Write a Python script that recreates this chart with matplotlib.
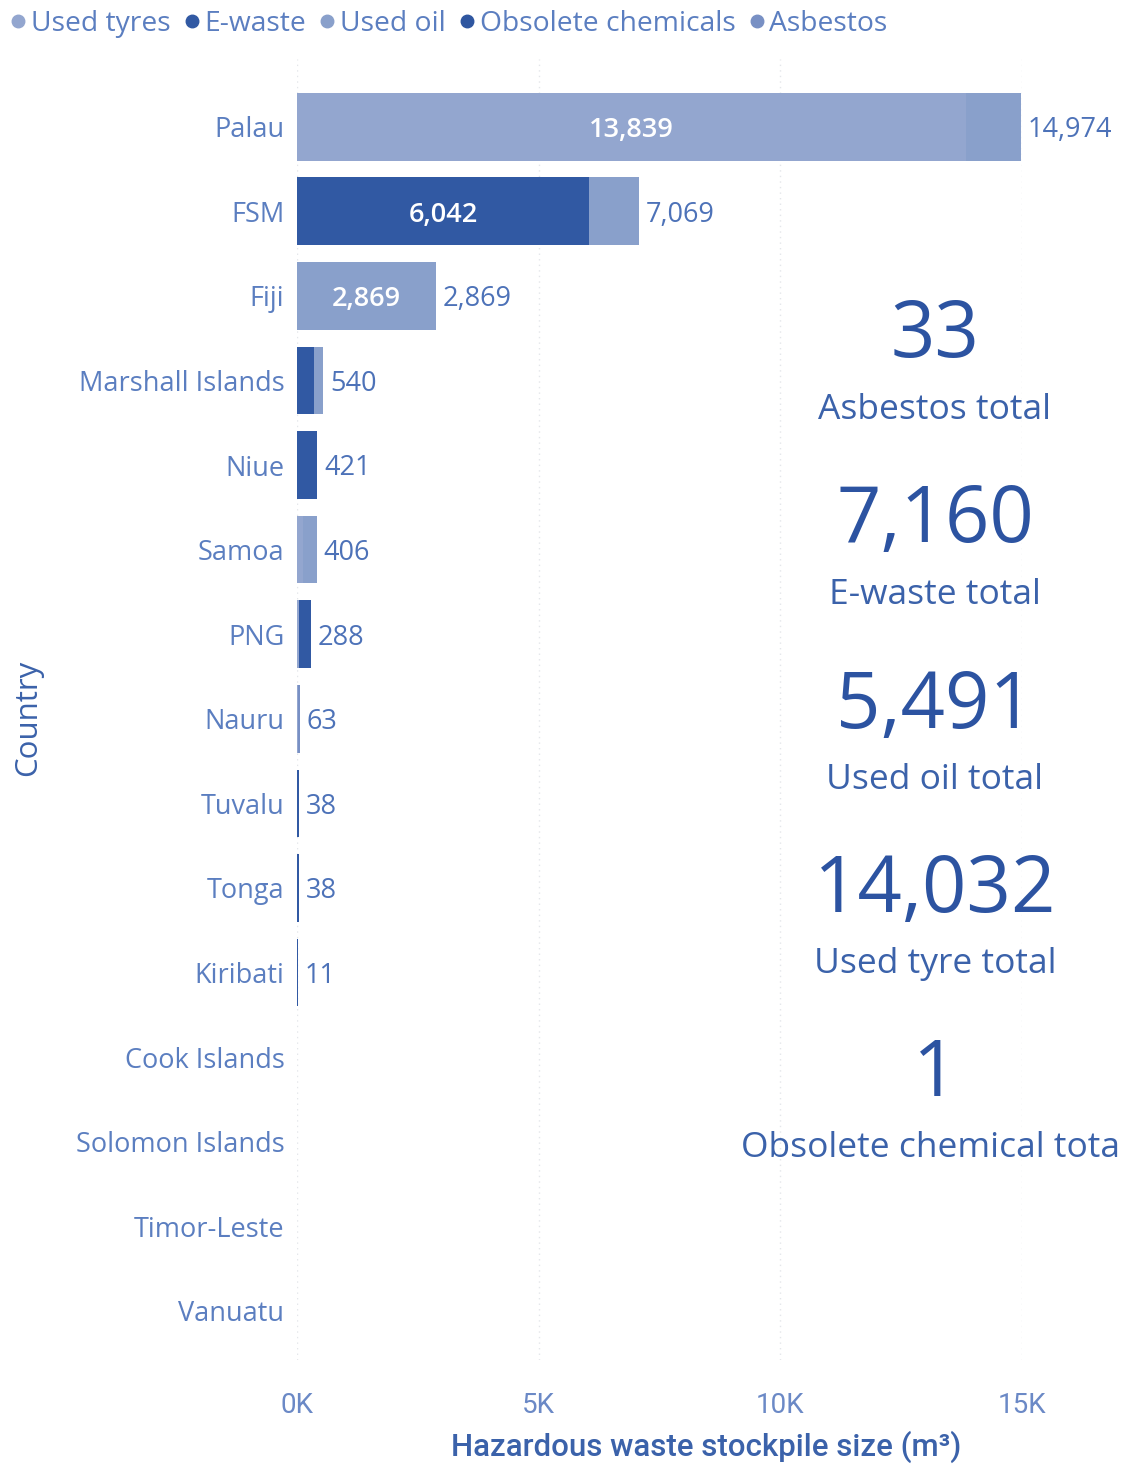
import matplotlib
matplotlib.use("Agg")
import matplotlib.pyplot as plt
import numpy as np
from matplotlib.lines import Line2D
from matplotlib.ticker import FuncFormatter
from matplotlib.transforms import Bbox, TransformedBbox

countries = ["Palau", "FSM", "Fiji", "Marshall Islands", "Niue", "Samoa", "PNG",
             "Nauru", "Tuvalu", "Tonga", "Kiribati", "Cook Islands",
             "Solomon Islands", "Timor-Leste", "Vanuatu"]

# stockpile sizes per waste type (m3), same order as countries
used_tyres = [13839, 0, 0, 0, 0, 131, 33, 29, 0, 0, 0, 0, 0, 0, 0]
e_waste = [0, 6042, 0, 355, 421, 0, 255, 0, 38, 38, 11, 0, 0, 0, 0]
used_oil = [1135, 1027, 2869, 185, 0, 275, 0, 0, 0, 0, 0, 0, 0, 0, 0]
obsolete_chemicals = [0, 0, 0, 0, 0, 0, 0, 1, 0, 0, 0, 0, 0, 0, 0]
asbestos = [0, 0, 0, 0, 0, 0, 0, 33, 0, 0, 0, 0, 0, 0, 0]

series_names = ["Used tyres", "E-waste", "Used oil", "Obsolete chemicals", "Asbestos"]
series_colors = ["#93a6cf", "#3159a3", "#89a0cb", "#2f56a0", "#7890c4"]

card_labels = ["Asbestos total", "E-waste total", "Used oil total",
               "Used tyre total", "Obsolete chemical total"]

label_col = "#4d72b8"
dark_col = "#2c53a1"

fig = plt.figure(figsize=(11.27, 14.66), dpi=100)
ax = fig.add_axes([297 / 1127, 1 - 1360 / 1466, (1022 - 297) / 1127, (1360 - 59) / 1466])

series = [used_tyres, e_waste, used_oil, obsolete_chemicals, asbestos]
y = np.arange(len(countries))
left = np.zeros(len(countries))
for vals, col in zip(series, series_colors):
    vals = np.array(vals, dtype=float)
    ax.barh(y, vals, left=left, height=0.8, color=col, linewidth=0)
    for i, v in enumerate(vals):
        if v >= 1500:
            ax.text(left[i] + v / 2, i + 0.04, f"{int(v):,}", ha="center", va="center",
                    color="white", fontsize=19.5, fontweight="semibold", family="Open Sans")
    left += vals

totals = left
for i, t in enumerate(totals):
    if t > 0:
        ax.text(t + 140, i + 0.04, f"{int(t):,}", ha="left", va="center", color=label_col,
                fontsize=19.5, family="Open Sans", clip_on=False)

ax.set_xlim(0, 15000)
ax.set_ylim(14.58, -0.8)
ax.set_yticks(y)
ax.set_yticklabels(countries, family="Open Sans", fontsize=19.5, color="#5b7ec0")
ax.set_xticks([0, 5000, 10000, 15000])
ax.xaxis.set_major_formatter(FuncFormatter(lambda v, p: f"{int(v / 1000)}K"))
for lab in ax.get_xticklabels():
    lab.set_family("Roboto")
    lab.set_fontsize(20)
    lab.set_color("#6b89c6")
ax.tick_params(axis="both", length=0)
ax.tick_params(axis="x", pad=23)
ax.tick_params(axis="y", pad=9)
ax.grid(axis="x", color="#e4e6ea", linestyle=(0, (1, 3)), linewidth=1)
ax.set_axisbelow(True)
for s in ax.spines.values():
    s.set_visible(False)

ax.set_xlabel("Hazardous waste stockpile size (m³)", family="Roboto", fontsize=22.5,
              fontweight="medium", color="#3b62aa", va="center")
ax.xaxis.set_label_coords((706 - 297) / (1022 - 297), -(1447 - 1360) / (1360 - 59))
fig.text(28 / 1127, 1 - 718 / 1466, "Country", rotation=90, ha="center", va="center",
         family="Open Sans", fontsize=22.5, color="#3b62aa")

# legend across the top
handles = [Line2D([], [], marker="o", linestyle="", markersize=9, color=c)
           for c in series_colors]
leg = fig.legend(handles, series_names, loc="center left", bbox_to_anchor=(0.0, 1 - 24 / 1466),
                 ncol=5, frameon=False, handlelength=0.5, handletextpad=0.2,
                 columnspacing=0.5, borderaxespad=0, prop={"family": "Open Sans", "size": 20.3})
for t in leg.get_texts():
    t.set_color("#5b7ec0")

# summary cards on the right
card_values = [sum(asbestos), sum(e_waste), sum(used_oil), sum(used_tyres),
               sum(obsolete_chemicals)]
card_y = [337, 522, 707, 891, 1075]
card_clip = TransformedBbox(Bbox([[0, 0], [1120 / 1127, 1]]), fig.transFigure)
for val, lab, cy in zip(card_values, card_labels, card_y):
    fig.text(935 / 1127, 1 - cy / 1466, f"{val:,}", ha="center", va="center",
             family="Open Sans", fontsize=56, color=dark_col)
    t = fig.text(935 / 1127, 1 - (cy + 73) / 1466, lab, ha="center", va="center",
                 family="Open Sans", fontsize=25.5, color="#3b62aa")
    t.set_clip_box(card_clip)
    t.set_clip_on(True)

fig.savefig("out.png", dpi=100, facecolor="white")
